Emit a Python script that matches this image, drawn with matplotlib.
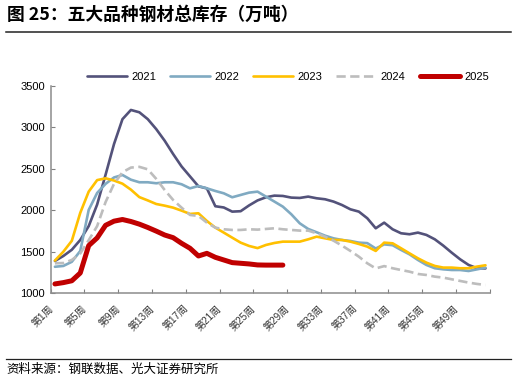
import numpy as np
import matplotlib
matplotlib.use("Agg")
import matplotlib.pyplot as plt
from matplotlib.lines import Line2D

plt.rcParams['font.family'] = ['Liberation Sans', 'Noto Sans CJK SC', 'DejaVu Sans']

## data (万吨)
weeks = np.arange(1, 53)

y2021 = [1390, 1450, 1525, 1643, 1810, 2070, 2430, 2800, 3100, 3211,
         3183, 3100, 2980, 2840, 2680, 2530, 2410, 2290, 2265, 2050,
         2035, 1985, 1990, 2060, 2120, 2158, 2178, 2174, 2154, 2150,
         2166, 2146, 2134, 2106, 2065, 2013, 1985, 1905, 1784, 1852,
         1772, 1724, 1712, 1732, 1704, 1651, 1575, 1490, 1410, 1342,
         1302, 1300]
y2022 = [1320, 1330, 1380, 1510, 2005, 2210, 2320, 2397, 2427, 2370,
         2339, 2339, 2327, 2339, 2339, 2315, 2266, 2294, 2266, 2234,
         2206, 2158, 2186, 2214, 2226, 2166, 2106, 2045, 1953, 1844,
         1776, 1736, 1695, 1663, 1643, 1631, 1611, 1605, 1540, 1590,
         1580, 1523, 1470, 1402, 1342, 1302, 1289, 1281, 1281, 1269,
         1289, 1310]
y2023 = [1395, 1502, 1633, 1970, 2226, 2365, 2387, 2360, 2322, 2250,
         2160, 2120, 2077, 2057, 2033, 1997, 1957, 1965, 1872, 1792,
         1732, 1671, 1611, 1571, 1545, 1583, 1607, 1623, 1623, 1623,
         1651, 1683, 1663, 1643, 1643, 1623, 1595, 1563, 1511, 1611,
         1603, 1543, 1482, 1422, 1370, 1330, 1310, 1310, 1302, 1302,
         1322, 1338]
y2024 = [1362, 1365, 1402, 1480, 1640, 1810, 2100, 2320, 2460, 2516,
         2525, 2495, 2380, 2246, 2126, 2033, 1945, 1933, 1852, 1792,
         1772, 1764, 1764, 1772, 1768, 1776, 1784, 1772, 1764, 1756,
         1756, 1724, 1683, 1635, 1575, 1511, 1442, 1362, 1300, 1328,
         1302, 1281, 1261, 1233, 1221, 1201, 1189, 1169, 1149, 1129,
         1113, 1100]
y2025 = [1113, 1129, 1151, 1245, 1575, 1668, 1820, 1870, 1890, 1866,
         1834, 1794, 1750, 1703, 1671, 1603, 1543, 1450, 1482, 1434,
         1402, 1370, 1362, 1354, 1342, 1340, 1340, 1340]

label_weeks = np.arange(1, 50, 4)
tick_labels = ["第%d周" % w for w in label_weeks]

##
fig = plt.figure(figsize=(5.16, 3.8), dpi=100)
ax = fig.add_axes([50.7/516, 1-293.3/380, (489.7-50.7)/516, (293.3-86)/380])

ax.plot(weeks, y2021, color="#53527A", lw=1.9, label="2021", solid_capstyle="round")
ax.plot(weeks, y2022, color="#80AAC2", lw=1.9, label="2022", solid_capstyle="round")
ax.plot(weeks, y2023, color="#FFC000", lw=1.9, label="2023", solid_capstyle="round")
ax.plot(weeks, y2024, color="#BDBDBD", lw=1.9, ls=(0, (3.5, 1.7)), label="2024")
ax.plot(weeks[:len(y2025)], y2025, color="#C00000", lw=3.6, label="2025",
        solid_capstyle="round")

ax.set_xlim(0.5, 52.5)
ax.set_ylim(1000, 3500)
ax.set_yticks(np.arange(1000, 3501, 500))
ax.set_xticks(label_weeks)
ax.set_xticklabels(tick_labels, rotation=45, ha="right", fontsize=7.2, color="#333333")
ax.set_xticks(np.arange(0.5, 53, 4), minor=True)
ax.tick_params(axis="x", which="major", length=0, pad=7)
ax.tick_params(axis="x", which="minor", direction="in", length=3, color="#808080", width=0.8)
ax.tick_params(axis="y", direction="in", length=3, color="#808080", width=0.8,
               labelsize=8, pad=4)

for s in ["top", "right"]:
    ax.spines[s].set_visible(False)
for s in ["left", "bottom"]:
    ax.spines[s].set_color("#8C8C8C")
    ax.spines[s].set_linewidth(1.1)

leg = ax.legend(loc="center", bbox_to_anchor=(0.54, 1.045), ncol=5, frameon=False,
                fontsize=8, handlelength=3.6, handletextpad=0.4, columnspacing=1.25)

## title, rules and source
fig.text(7/516, 1-15/380, "图 25：五大品种钢材总库存（万吨）", fontsize=12.8, fontweight="bold",
         va="center", ha="left", family=["Noto Sans CJK SC", "DejaVu Sans"])
fig.add_artist(Line2D([6/516, 511/516], [1-31.5/380, 1-31.5/380], color="#222222", lw=1.1))
fig.add_artist(Line2D([6/516, 511/516], [1-359/380, 1-359/380], color="#222222", lw=0.9))
fig.text(6/516, 1-369/380, "资料来源：钢联数据、光大证券研究所", fontsize=9,
         va="center", ha="left", family=["Noto Sans CJK SC", "DejaVu Sans"])

fig.savefig("out.png", dpi=100)
